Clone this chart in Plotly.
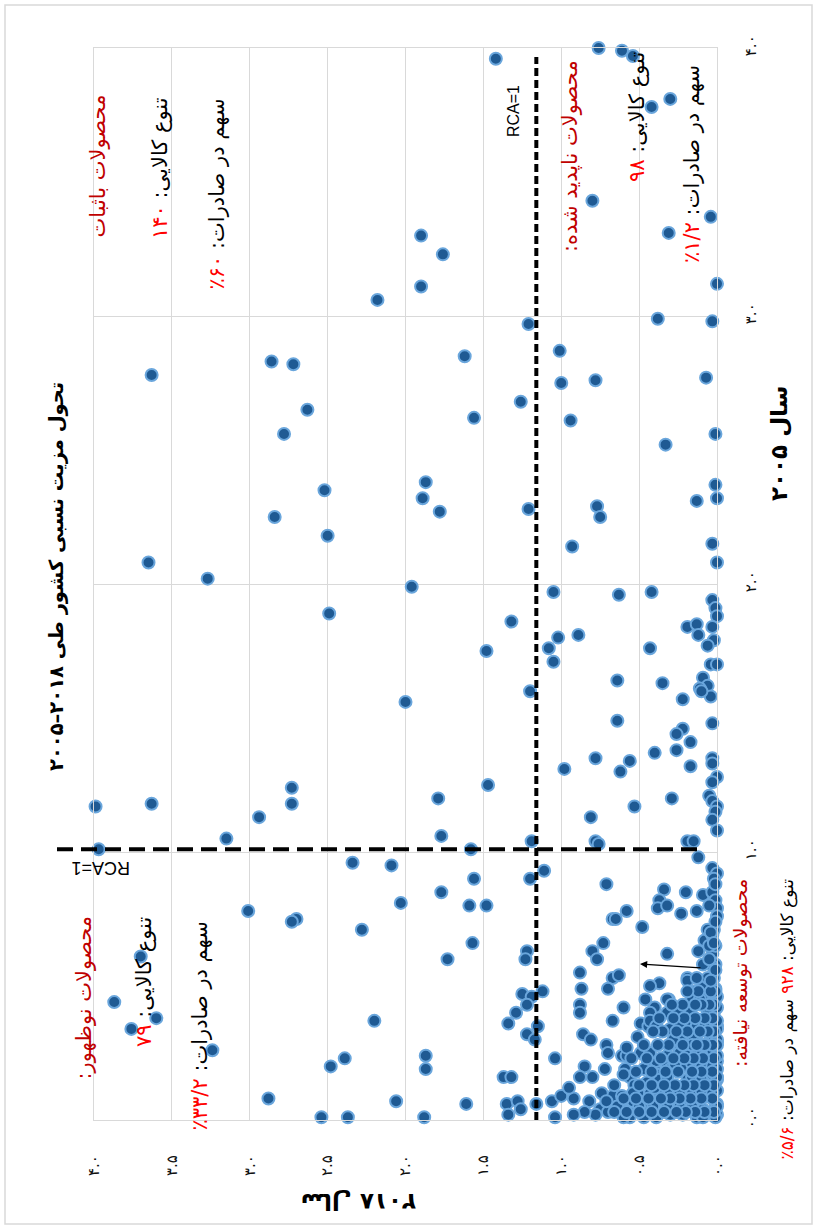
import plotly.graph_objects as go

# ---------------- data: RCA of each product (x = 2018, y = 2005) ----------------
rca2018_g1 = [2.18, 1.90, 1.76, 1.90, 1.42, 0.76, 0.61, 0.54, 0.42, 0.30, 0.80, 0.04, 0.31, 0.00, 1.21, 0.38, 0.03,
              3.63, 2.86, 2.72, 2.63, 2.78, 2.52, 2.84, 2.50, 3.65, 3.27, 1.96, 2.49, 1.87, 1.89, 2.00, 1.62, 1.01,
              1.00, 0.78, 0.07, 1.26, 1.56, 0.94, 0.01]
rca2005_g1 = [3.06, 3.30, 3.23, 3.11, 3.96, 4.00, 3.99, 3.97, 3.78, 3.81, 3.43, 3.37, 3.31, 3.12, 2.97, 2.99, 2.98,
              2.78, 2.83, 2.82, 2.65, 2.56, 2.35, 2.25, 2.18, 2.08, 2.02, 1.99, 1.89, 2.38, 2.32, 1.56, 2.85, 2.87,
              2.75, 2.76, 2.77, 2.68, 2.62, 2.61, 2.56]

rca2018_g2 = [0.33, 1.78, 1.21, 0.77, 0.75, 0.01, 0.13, 0.00, 0.93, 0.03, 0.00, 1.05, 0.63, 0.42, 0.03, 0.01, 0.00,
              1.32, 0.89, 1.02, 0.19, 0.13, 0.12, 0.03, 0.02, 0.06, 1.48, 1.08, 0.43, 1.05, 0.04, 0.00, 0.64, 0.35,
              0.09, 0.06, 0.11, 1.20, 0.22, 0.04]
rca2005_g2 = [2.52, 2.27, 2.28, 2.29, 2.25, 2.37, 2.31, 2.32, 2.14, 2.15, 2.08, 1.97, 1.96, 1.97, 1.94, 1.91, 1.88,
              1.86, 1.81, 1.80, 1.84, 1.85, 1.81, 1.84, 1.79, 1.77, 1.75, 1.76, 1.76, 1.71, 1.70, 1.70, 1.64, 1.63,
              1.65, 1.62, 1.61, 1.60, 1.57, 1.58]

rca2018_g3 = [0.10, 0.64, 0.03, 0.22, 0.26, 0.17, 0.40, 0.26, 0.78, 0.56, 0.62, 0.98, 0.03, 0.03, 0.17, 0.00, 0.03,
              1.47, 0.29, 0.05, 0.03, 0.00, 0.01, 0.53, 0.81, 0.03, 0.00, 0.78, 0.76, 0.19, 0.15, 1.19, 1.58]
rca2005_g3 = [1.60, 1.49, 1.48, 1.46, 1.44, 1.41, 1.37, 1.38, 1.35, 1.34, 1.30, 1.31, 1.35, 1.33, 1.32, 1.28, 1.26,
              1.25, 1.20, 1.21, 1.19, 1.17, 1.15, 1.17, 1.13, 1.12, 1.08, 1.04, 1.03, 1.04, 1.04, 1.04, 1.01]

rca2018_g4 = [3.99, 3.63, 3.15, 2.94, 2.73, 2.73, 3.97, 1.79, 1.77, 2.34, 2.09, 1.77, 2.03, 3.01, 2.70, 2.73, 2.28,
              1.73, 3.70, 3.87, 3.76, 3.60, 2.20, 3.24, 1.87, 1.87, 2.39, 2.48, 2.88, 2.06, 2.54, 2.37, 1.88]
rca2005_g4 = [1.17, 1.18, 1.05, 1.13, 1.24, 1.18, 1.01, 1.20, 1.06, 0.96, 0.95, 0.85, 0.81, 0.78, 0.75, 0.74, 0.71,
              0.60, 0.61, 0.44, 0.34, 0.38, 0.37, 0.26, 0.24, 0.19, 0.23, 0.20, 0.08, 0.07, 0.01, 0.01, 0.01]

rca2018_g5 = [0.12, 0.03, 0.00, 1.11, 1.20, 1.56, 0.71, 1.59, 1.48, 0.34, 0.20, 0.09, 0.03, 0.37, 0.38, 0.32, 0.01,
              0.00, 0.00, 0.58, 0.23, 0.13, 0.67, 0.65, 0.48, 1.57, 0.73, 0.08, 0.03, 0.80, 0.77, 0.32, 0.12, 0.03,
              1.22, 1.23, 0.88, 0.67, 0.63, 0.37, 0.19, 0.87, 0.70, 1.25, 1.19, 1.12, 0.31, 0.88, 0.88, 0.60, 1.29]
rca2005_g5 = [0.98, 0.94, 0.92, 0.93, 0.90, 0.90, 0.88, 0.80, 0.80, 0.86, 0.85, 0.84, 0.85, 0.82, 0.79, 0.80, 0.82,
              0.79, 0.76, 0.78, 0.77, 0.78, 0.75, 0.75, 0.72, 0.66, 0.66, 0.67, 0.69, 0.63, 0.60, 0.62, 0.63, 0.62,
              0.63, 0.60, 0.55, 0.53, 0.54, 0.51, 0.53, 0.49, 0.49, 0.47, 0.46, 0.48, 0.45, 0.43, 0.40, 0.42, 0.40]

rca2018_g6 = [1.34, 0.67, 1.22, 1.15, 0.86, 0.81, 0.71, 0.70, 1.04, 0.85, 0.80, 0.88, 0.61, 0.58, 0.44, 1.37, 1.32,
              1.61, 1.35, 1.28, 1.16, 1.06, 1.00, 0.92, 0.67, 0.61, 1.22, 1.17, 1.26, 1.34, 1.04]
rca2005_g6 = [0.36, 0.37, 0.32, 0.35, 0.32, 0.30, 0.28, 0.25, 0.23, 0.20, 0.16, 0.16, 0.24, 0.24, 0.25, 0.16, 0.16,
              0.06, 0.06, 0.07, 0.06, 0.07, 0.09, 0.08, 0.09, 0.09, 0.43, 0.30, 0.04, 0.02, 0.01]

rca2018_g7 = [0.49, 0.44, 0.29, 0.26, 0.19, 0.13, 0.09, 0.00, 0.04, 0.13, 0.19, 0.06, 0.03, 0.00, 0.51, 0.58, 0.45,
              0.40, 0.32, 0.27, 0.24, 0.39, 0.59, 0.56, 0.49, 0.43, 0.39, 0.48, 0.46, 0.43, 0.53, 0.75, 0.82, 0.54,
              0.46, 0.70, 0.78, 0.85, 0.92, 0.74, 0.66, 0.95, 0.60, 0.72]
rca2005_g7 = [0.36, 0.35, 0.34, 0.31, 0.39, 0.37, 0.35, 0.35, 0.31, 0.32, 0.29, 0.27, 0.25, 0.29, 0.31, 0.27, 0.20,
              0.19, 0.21, 0.23, 0.26, 0.22, 0.19, 0.16, 0.09, 0.10, 0.07, 0.05, 0.45, 0.50, 0.13, 0.04, 0.07, 0.06,
              0.04, 0.03, 0.02, 0.03, 0.02, 0.10, 0.13, 0.12, 0.17, 0.19]

# dense cluster near the origin (undeveloped products)
rca2018_c1 = [0.19, 0.09, 0.14, 0.01, 0.07, 0.02, 0.16, 0.11, 0.32, 0.02, 0.40, 0.43, 0.32, 0.25, 0.17, 0.06, 0.00]
rca2005_c1 = [0.52, 0.50, 0.48, 0.49, 0.46, 0.45, 0.45, 0.45, 0.45, 0.40, 0.42, 0.40, 0.40, 0.41, 0.40, 0.41, 0.42]
rca2018_c2 = [0.43, 0.39, 0.30, 0.24, 0.17, 0.13, 0.08, 0.01, 0.00, 0.15, 0.04, 0.02, 0.28, 0.22, 0.00]
rca2005_c2 = [0.37, 0.35, 0.34, 0.35, 0.37, 0.35, 0.35, 0.37, 0.34, 0.31, 0.32, 0.30, 0.30, 0.32, 0.30]
rca2018_c3 = [0.49, 0.43, 0.32, 0.24, 0.19, 0.13, 0.07, 0.00, 0.47, 0.39, 0.30, 0.22, 0.13, 0.07, 0.00]
rca2005_c3 = [0.25, 0.25, 0.24, 0.25, 0.24, 0.25, 0.22, 0.22, 0.19, 0.17, 0.19, 0.20, 0.19, 0.17, 0.19]
rca2018_c4 = [0.45, 0.37, 0.28, 0.19, 0.13, 0.07, 0.00, 0.00, 0.24, 0.32]
rca2005_c4 = [0.14, 0.15, 0.12, 0.15, 0.12, 0.14, 0.15, 0.11, 0.10, 0.10]
rca2018_c5 = [0.54, 0.45, 0.37, 0.28, 0.19, 0.13, 0.07, 0.00, 0.00, 0.04, 0.13, 0.22, 0.30, 0.39, 0.47, 0.56, 0.62,
              0.71, 0.64, 0.60, 0.54]
rca2005_c5 = [0.07, 0.05, 0.09, 0.06, 0.07, 0.05, 0.09, 0.06, 0.02, 0.02, 0.01, 0.02, 0.02, 0.01, 0.01, 0.01, 0.04,
              0.07, 0.05, 0.01, 0.10]
rca2018_c6 = [0.16, 0.10, 0.03, 0.27, 0.16, 0.10, 0.03, 0.16, 0.10, 0.03, 0.32, 0.40, 0.16, 0.10, 0.03, 0.41, 0.32,
              0.24, 0.16, 0.09, 0.01, 0.50, 0.09, 0.01, 0.00, 0.00, 0.00, 0.00, 0.00, 0.00]
rca2005_c6 = [0.28, 0.28, 0.26, 0.21, 0.21, 0.20, 0.20, 0.16, 0.15, 0.17, 0.16, 0.12, 0.10, 0.11, 0.10, 0.05, 0.05,
              0.05, 0.05, 0.04, 0.05, 0.05, 0.01, 0.01, 0.05, 0.24, 0.16, 0.28, 0.37, 0.46]
rca2018_c7 = [0.02, 0.08, 0.14, 0.20, 0.26, 0.34, 0.42, 0.50, 0.58, 0.66, 0.03, 0.10, 0.17, 0.24, 0.30, 0.36, 0.44,
              0.52, 0.60, 0.02, 0.08, 0.15, 0.21, 0.27, 0.34, 0.42, 0.50, 0.03, 0.10, 0.16, 0.25, 0.33, 0.42, 0.52]
rca2005_c7 = [0.03, 0.03, 0.03, 0.03, 0.03, 0.03, 0.03, 0.03, 0.03, 0.03, 0.08, 0.08, 0.08, 0.08, 0.08, 0.08, 0.08,
              0.08, 0.08, 0.13, 0.13, 0.13, 0.13, 0.13, 0.13, 0.13, 0.13, 0.18, 0.18, 0.18, 0.18, 0.18, 0.18, 0.18]
rca2018_c8 = [0.02, 0.09, 0.15, 0.21, 0.28, 0.36, 0.45, 0.55, 0.03, 0.08, 0.13, 0.22, 0.31, 0.38, 0.47, 0.02, 0.06,
              0.11, 0.19, 0.26, 0.35, 0.41, 0.03, 0.08, 0.14, 0.21, 0.28, 0.37]
rca2005_c8 = [0.23, 0.23, 0.23, 0.23, 0.23, 0.23, 0.23, 0.23, 0.28, 0.28, 0.28, 0.28, 0.28, 0.28, 0.28, 0.33, 0.33,
              0.33, 0.33, 0.33, 0.33, 0.33, 0.38, 0.38, 0.38, 0.38, 0.38, 0.38]
rca2018_c9 = [0.02, 0.05, 0.10, 0.14, 0.22, 0.29, 0.01, 0.04, 0.12, 0.19, 0.02, 0.06, 0.13, 0.01, 0.04, 0.09, 0.01,
              0.05, 0.02, 0.06, 0.02, 0.05, 0.01, 0.04, 0.02, 0.05, 0.01, 0.04, 0.01]
rca2005_c9 = [0.43, 0.43, 0.43, 0.43, 0.43, 0.43, 0.48, 0.48, 0.48, 0.48, 0.53, 0.53, 0.53, 0.58, 0.58, 0.58, 0.65,
              0.65, 0.71, 0.71, 0.90, 0.80, 0.74, 0.70, 0.66, 0.60, 0.56, 0.52, 0.88]

rca2018 = (rca2018_g1 + rca2018_g2 + rca2018_g3 + rca2018_g4 + rca2018_g5 + rca2018_g6 + rca2018_g7 +
           rca2018_c1 + rca2018_c2 + rca2018_c3 + rca2018_c4 + rca2018_c5 + rca2018_c6 + rca2018_c7 +
           rca2018_c8 + rca2018_c9)
rca2005 = (rca2005_g1 + rca2005_g2 + rca2005_g3 + rca2005_g4 + rca2005_g5 + rca2005_g6 + rca2005_g7 +
           rca2005_c1 + rca2005_c2 + rca2005_c3 + rca2005_c4 + rca2005_c5 + rca2005_c6 + rca2005_c7 +
           rca2005_c8 + rca2005_c9)

# tick labels
x_tickvals = [0, 0.5, 1, 1.5, 2, 2.5, 3, 3.5, 4]
x_ticktext = ["۰.۰", "۰.۵", "۱.۰", "۱.۵", "۲.۰", "۲.۵", "۳.۰", "۳.۵", "۴.۰"]
y_tickvals = [0, 1, 2, 3, 4]
y_ticktext = ["۰.۰", "۱.۰", "۲.۰", "۳.۰", "۴.۰"]

# reference lines as drawn in the source
rca_line_2018 = 1.16
rca_line_2005 = 1.01

# ---------------- layout helpers ----------------
W, H = 816, 1230
ML, MR, MT, MB = 94, 99, 48, 110
PW = W - ML - MR
PH = H - MT - MB
FA = "DejaVu Sans"
RLM = "\u200f"
DARKRED = "#c00000"
RED = "#ff0000"


def px(xp):
    return (xp - ML) / PW


def py(yp):
    return (H - MB - yp) / PH


annotations = []


def ann(text, x, y, angle=-90, size=21, color="black", xanchor="center", yanchor="middle",
        family=FA, weight="normal"):
    annotations.append(dict(text=text, x=px(x), y=py(y), xref="paper", yref="paper", showarrow=False,
                            textangle=angle, xanchor=xanchor, yanchor=yanchor,
                            font=dict(family=family, size=size, color=color, weight=weight)))


def red(s):
    return "<span style='color:%s'>%s</span>" % (RED, s + RLM)


# title and axis titles
ann(RLM + "تحول مزیت نسبی کشور طی ۲۰۱۸–۲۰۰۵" + RLM, 56, 577, size=19.5, weight="bold")
ann(RLM + "سال ۲۰۰۵" + RLM, 779, 444, size=23, weight="bold")
ann(RLM + "سال ۲۰۱۸" + RLM, 359, 1202, angle=180, size=23, weight="bold")
ann("RCA=1", 513, 111, size=16, family="Liberation Sans")
ann("RCA=1", 101, 868, angle=180, size=18, family="Liberation Sans")

# quadrant labels
ann(RLM + "محصولات باثبات" + RLM, 98, 93, color=DARKRED, yanchor="top")
ann(RLM + "تنوع کالایی: " + red("۱۴۰"), 160, 95, yanchor="top")
ann(RLM + "سهم در صادرات: " + red("۶۰٪"), 217, 97, yanchor="top")

ann(RLM + "محصولات ناپدید شده:" + RLM, 570, 58, color=DARKRED, yanchor="top")
ann(RLM + "تنوع کالایی: " + red("۹۸"), 637, 50, yanchor="top")
ann(RLM + "سهم در صادرات: " + red("۱/۲٪"), 692, 63, yanchor="top")

ann(RLM + "محصولات نوظهور:" + RLM, 84, 915, color=DARKRED, yanchor="top")
ann(RLM + "تنوع کالایی: " + red("۷۹"), 144, 915, yanchor="top")
ann(RLM + "سهم در صادرات: " + red("۳۳/۲٪"), 200, 920, yanchor="top")

ann(RLM + "محصولات توسعه نیافته:" + RLM, 740, 877, color=DARKRED, yanchor="top", size=19)
ann(RLM + "تنوع کالایی: " + red("۹۲۸") + " سهم در صادرات: " + red("۵/۶٪"), 787, 877, yanchor="top", size=17)

# arrow pointing at the cluster
annotations.append(dict(x=px(640), y=py(964), xref="paper", yref="paper", text="", showarrow=True,
                        ax=62, ay=4, arrowhead=2, arrowsize=1.1, arrowwidth=1.3, arrowcolor="black"))

shapes = [
    dict(type="rect", xref="paper", yref="paper", x0=px(5), x1=px(812), y0=py(1224), y1=py(5),
         line=dict(color="#d9d9d9", width=1.5), layer="below"),
    dict(type="line", xref="paper", yref="paper",
         x0=(4 - rca_line_2018) / 4, x1=(4 - rca_line_2018) / 4, y0=0, y1=py(57),
         line=dict(color="black", width=4, dash="8px,4px")),
    dict(type="line", xref="paper", yref="paper",
         x0=px(57), x1=px(702), y0=rca_line_2005 / 4, y1=rca_line_2005 / 4,
         line=dict(color="black", width=4, dash="16px,8px")),
]

fig = go.Figure()
fig.add_trace(go.Scatter(
    x=rca2018, y=rca2005, mode="markers", cliponaxis=False, hoverinfo="skip",
    marker=dict(size=12, color="#1f5a93", line=dict(color="#6aa6dc", width=2)),
))

axis_common = dict(showgrid=True, gridcolor="#d9d9d9", gridwidth=1.3, zeroline=False,
                   showline=True, linecolor="#d9d9d9", linewidth=1.3, mirror=True, ticks="",
                   tickfont=dict(family=FA, size=15, color="#111111"), tickangle=-90)

fig.update_layout(
    width=W, height=H,
    margin=dict(l=ML, r=MR, t=MT, b=MB, pad=0),
    paper_bgcolor="white", plot_bgcolor="white",
    showlegend=False,
    xaxis=dict(range=[4, 0], tickvals=x_tickvals, ticktext=x_ticktext, ticklabelstandoff=28, **axis_common),
    yaxis=dict(range=[0, 4], tickvals=y_tickvals, ticktext=y_ticktext, side="right", ticklabelstandoff=20,
               **axis_common),
    annotations=annotations,
    shapes=shapes,
)

fig.write_html("out.html", config={"displayModeBar": False},
               post_script="document.body.style.margin='0px';")
